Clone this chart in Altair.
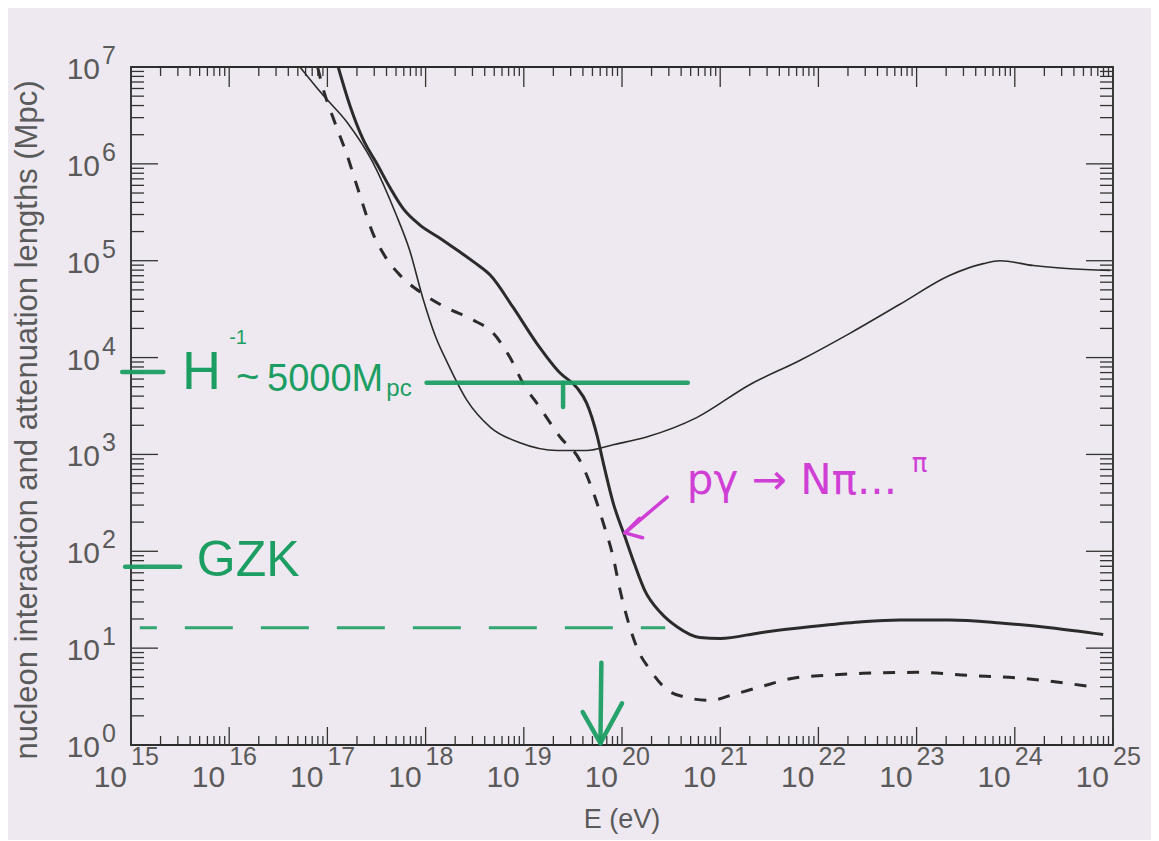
import altair as alt
import pandas as pd

# ---------------- values ----------------
# log10(E / eV) and log10(L / Mpc)
thin_logE = [16.72, 16.955, 17.20, 17.46, 17.69, 17.84, 17.97, 18.10, 18.22, 18.42, 18.66, 18.96,
             19.34, 19.64, 19.91, 20.25, 20.76, 21.30, 21.81, 22.32, 22.83, 23.34, 23.68,
             23.85, 24.19, 24.53, 24.97]
thin_logL = [7.00, 6.71, 6.43, 6.02, 5.50, 5.10, 4.62, 4.22, 3.95, 3.56, 3.28, 3.12,
             3.04, 3.04, 3.10, 3.18, 3.38, 3.72, 3.97, 4.25, 4.55, 4.85, 4.97,
             5.00, 4.95, 4.92, 4.90]

thick_logE = [17.11, 17.23, 17.36, 17.51, 17.64, 17.77, 17.94, 18.15, 18.32, 18.50, 18.66,
              18.89, 19.13, 19.37, 19.54, 19.64, 19.75, 19.81, 19.91, 20.03, 20.13, 20.23,
              20.39, 20.56, 20.79, 21.00, 21.41, 21.91, 22.42, 22.83, 23.34, 23.85, 24.36, 24.90]
thick_logL = [7.00, 6.60, 6.26, 5.99, 5.75, 5.54, 5.37, 5.23, 5.11, 4.98, 4.85,
              4.52, 4.15, 3.84, 3.69, 3.53, 3.18, 2.91, 2.50, 2.15, 1.86, 1.60,
              1.37, 1.22, 1.11, 1.10, 1.16, 1.22, 1.27, 1.29, 1.29, 1.26, 1.21, 1.14]

dash_logE = [16.90, 16.955, 17.06, 17.20, 17.33, 17.46, 17.59, 17.74, 17.97, 18.22, 18.48,
             18.69, 18.86, 18.99, 19.16, 19.37, 19.57, 19.70, 19.81, 19.91, 19.98, 20.05,
             20.15, 20.29, 20.46, 20.66, 20.90, 21.13, 21.41, 21.74, 22.09, 22.45, 23.00,
             23.51, 24.05, 24.58, 24.85]
dash_logL = [7.00, 6.78, 6.47, 6.09, 5.68, 5.29, 5.04, 4.85, 4.66, 4.51, 4.39,
             4.25, 4.00, 3.74, 3.49, 3.18, 2.94, 2.63, 2.29, 1.94, 1.60, 1.32,
             1.01, 0.77, 0.57, 0.49, 0.46, 0.52, 0.60, 0.69, 0.72, 0.74, 0.75,
             0.72, 0.69, 0.63, 0.59]

x_exponents = [15, 16, 17, 18, 19, 20, 21, 22, 23, 24, 25]
y_exponents = [0, 1, 2, 3, 4, 5, 6, 7]
minor_mult = [2, 3, 4, 5, 6, 7, 8, 9]

# hand-drawn annotations (log10 E, log10 L)
green_segments = {  # E1, E2, L1, L2
    "E1": [14.91, 14.94, 18.01, 19.40, 19.79, 19.60, 20.00],
    "E2": [15.33, 15.50, 20.67, 19.40, 19.78, 19.78, 19.78],
    "L1": [3.85, 1.84, 3.74, 3.74, 0.85, 0.34, 0.43],
    "L2": [3.85, 1.84, 3.74, 3.49, 0.02, 0.02, 0.02],
}
green_dash = {"E1": [15.09], "E2": [20.44], "L": [1.21]}
magenta_segments = {
    "E1": [20.46, 20.18, 20.21],
    "E2": [20.03, 20.03, 20.03],
    "L1": [2.56, 2.34, 2.14],
    "L2": [2.19, 2.19, 2.19],
}
green_texts = {
    "E": [15.52, 16.00, 16.07, 16.385, 17.60, 15.67],
    "L": [3.84, 4.20, 3.79, 3.77, 3.68, 1.90],
    "t": ["H", "-1", "~", "5000M", "pc", "GZK"],
    "size": [54, 20, 40, 38, 24, 50],
}
magenta_texts = {
    "E": [20.66, 22.95],
    "L": [2.73, 2.90],
    "t": ["p\u03b3 \u2192 N\u03c0...", "\u03c0"],
    "size": [42, 26],
}

# ---------------- chart ----------------
W, H = 982, 678
BG = "#eee9f0"
INK = "#2b2b2b"
GREEN = "#1c9e63"
MAGENTA = "#cf3fd6"
LABEL = "#5a5a5a"
FONT = "Liberation Sans"

xs = alt.Scale(type="log", domain=[1e15, 1e25], nice=False)
ys = alt.Scale(type="log", domain=[1, 1e7], nice=False)


def X(f):
    return alt.X(f, type="quantitative", scale=xs, axis=None)


def Y(f):
    return alt.Y(f, type="quantitative", scale=ys, axis=None)


def pw(vals):
    return [10.0 ** v for v in vals]


def curve(le, ll, width, dash=None):
    df = pd.DataFrame({"E": pw(le), "L": pw(ll), "i": list(range(len(le)))})
    kw = dict(color=INK, strokeWidth=width, interpolate="monotone", clip=True)
    if dash:
        kw["strokeDash"] = dash
    return alt.Chart(df).mark_line(**kw).encode(x=X("E"), y=Y("L"), order="i:Q")


layers = []
layers.append(curve(thin_logE, thin_logL, 1.6))
layers.append(curve(thick_logE, thick_logL, 3.0))
layers.append(curve(dash_logE, dash_logL, 3.0, dash=[12, 12]))

# tick marks (inward, on all four sides)
x_major = pd.DataFrame({"v": [10.0 ** k for k in x_exponents]})
x_minor = pd.DataFrame({"v": [m * 10.0 ** k for k in x_exponents[:-1] for m in minor_mult]})
y_major = pd.DataFrame({"v": [10.0 ** k for k in y_exponents]})
y_minor = pd.DataFrame({"v": [m * 10.0 ** k for k in y_exponents[:-1] for m in minor_mult]})

tk = dict(color="#333333", strokeWidth=1.3)
layers += [
    alt.Chart(x_major).mark_rule(**tk).encode(x=X("v"), y=alt.value(H), y2=alt.value(H - 18)),
    alt.Chart(x_minor).mark_rule(**tk).encode(x=X("v"), y=alt.value(H), y2=alt.value(H - 9)),
    alt.Chart(x_major).mark_rule(**tk).encode(x=X("v"), y=alt.value(0), y2=alt.value(20)),
    alt.Chart(x_minor).mark_rule(**tk).encode(x=X("v"), y=alt.value(0), y2=alt.value(9)),
    alt.Chart(y_major).mark_rule(**tk).encode(y=Y("v"), x=alt.value(0), x2=alt.value(27)),
    alt.Chart(y_minor).mark_rule(**tk).encode(y=Y("v"), x=alt.value(0), x2=alt.value(13)),
    alt.Chart(y_major).mark_rule(**tk).encode(y=Y("v"), x=alt.value(W), x2=alt.value(W - 27)),
    alt.Chart(y_minor).mark_rule(**tk).encode(y=Y("v"), x=alt.value(W), x2=alt.value(W - 13)),
]

# tick labels "10" + exponent
xl = pd.DataFrame({"v": [10.0 ** k for k in x_exponents], "b": ["10"] * len(x_exponents),
                   "e": [str(k) for k in x_exponents]})
yl = pd.DataFrame({"v": [10.0 ** k for k in y_exponents], "b": ["10"] * len(y_exponents),
                   "e": [str(k) for k in y_exponents]})
layers += [
    alt.Chart(xl).mark_text(align="right", baseline="middle", dx=-4, fontSize=30, font=FONT,
                            color=LABEL, clip=False)
    .encode(x=X("v"), y=alt.value(H + 33), text="b:N"),
    alt.Chart(xl).mark_text(align="left", baseline="middle", dx=0, fontSize=25, font=FONT,
                            color=LABEL, clip=False)
    .encode(x=X("v"), y=alt.value(H + 12), text="e:N"),
    alt.Chart(yl).mark_text(align="right", baseline="middle", dy=3, fontSize=30, font=FONT,
                            color=LABEL, clip=False)
    .encode(y=Y("v"), x=alt.value(-31), text="b:N"),
    alt.Chart(yl).mark_text(align="left", baseline="middle", dy=-11, fontSize=25, font=FONT,
                            color=LABEL, clip=False)
    .encode(y=Y("v"), x=alt.value(-29), text="e:N"),
]

# axis titles
layers += [
    alt.Chart(pd.DataFrame({"t": ["E (eV)"]})).mark_text(
        align="center", baseline="middle", fontSize=27, font=FONT, color=LABEL)
    .encode(x=alt.value(491), y=alt.value(H + 75), text="t:N"),
    alt.Chart(pd.DataFrame({"t": ["nucleon interaction and attenuation lengths (Mpc)"]})).mark_text(
        align="center", baseline="middle", angle=270, fontSize=31, font=FONT, color=LABEL)
    .encode(x=alt.value(-103), y=alt.value(353), text="t:N"),
]

# green hand-drawn marks
gseg = pd.DataFrame({k: pw(v) for k, v in green_segments.items()})
layers.append(
    alt.Chart(gseg).mark_rule(color=GREEN, strokeWidth=4.5, strokeCap="round", clip=False, opacity=0.95)
    .encode(x=X("E1"), x2=alt.X2("E2"), y=Y("L1"), y2=alt.Y2("L2"))
)
gd = pd.DataFrame({k: pw(v) for k, v in green_dash.items()})
layers.append(
    alt.Chart(gd).mark_rule(color=GREEN, strokeWidth=3, strokeDash=[48, 28], strokeDashOffset=31,
                            clip=False, opacity=0.9)
    .encode(x=X("E1"), x2=alt.X2("E2"), y=Y("L"))
)
gt = pd.DataFrame({"E": pw(green_texts["E"]), "L": pw(green_texts["L"]),
                   "t": green_texts["t"], "s": green_texts["size"]})
layers.append(
    alt.Chart(gt).mark_text(align="left", baseline="middle", font=FONT, color=GREEN, clip=False)
    .encode(x=X("E"), y=Y("L"), text="t:N", size=alt.Size("s:Q", scale=None, legend=None))
)

# magenta annotation
mseg = pd.DataFrame({k: pw(v) for k, v in magenta_segments.items()})
layers.append(
    alt.Chart(mseg).mark_rule(color=MAGENTA, strokeWidth=3.5, strokeCap="round", clip=False)
    .encode(x=X("E1"), x2=alt.X2("E2"), y=Y("L1"), y2=alt.Y2("L2"))
)
mt = pd.DataFrame({"E": pw(magenta_texts["E"]), "L": pw(magenta_texts["L"]),
                   "t": magenta_texts["t"], "s": magenta_texts["size"]})
layers.append(
    alt.Chart(mt).mark_text(align="left", baseline="middle", font="DejaVu Sans", color=MAGENTA, clip=False)
    .encode(x=X("E"), y=Y("L"), text="t:N", size=alt.Size("s:Q", scale=None, legend=None))
)

chart = (
    alt.layer(*layers)
    .properties(
        width=W, height=H,
        autosize=alt.AutoSizeParams(type="none"),
        padding={"left": 123, "top": 59, "right": 38, "bottom": 95},
        background=BG,
    )
    .configure_view(stroke="#2b2b2b", strokeWidth=1.8, fill=BG)
)

chart.save("out.html", embed_options={"renderer": "svg", "actions": False})
